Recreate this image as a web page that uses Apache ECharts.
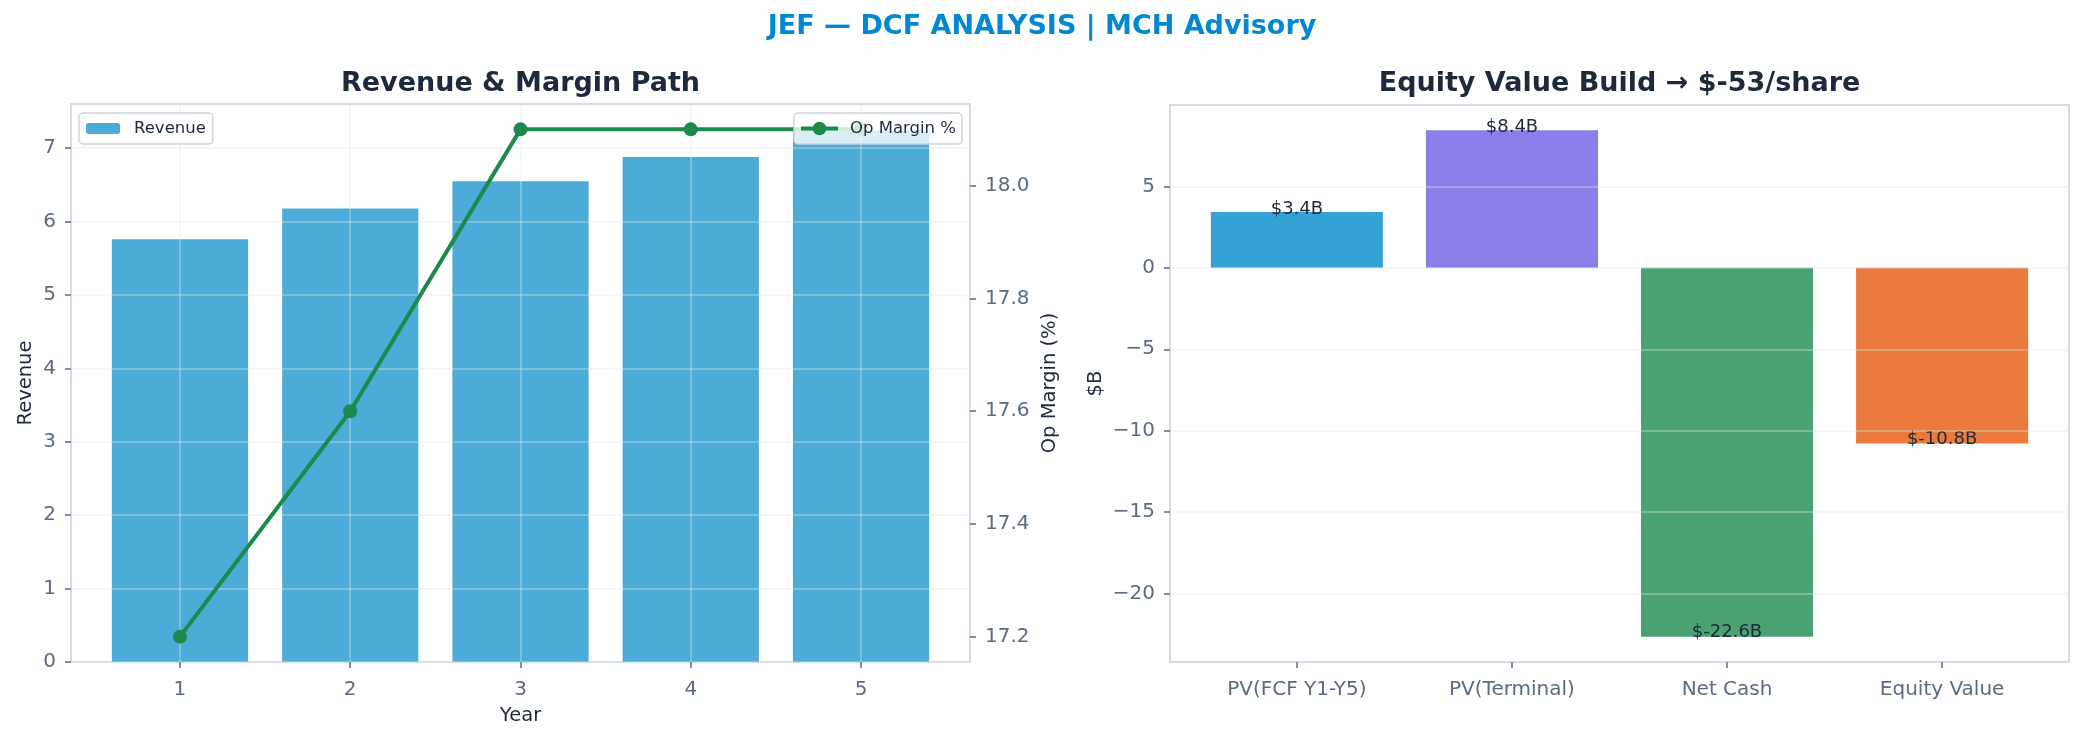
<!DOCTYPE html>
<html>
<head>
<meta charset="utf-8">
<title>JEF DCF Analysis</title>
<script src="https://cdn.jsdelivr.net/npm/echarts@6.0.0/dist/echarts.min.js"></script>
<style>
	html, body { margin: 0; padding: 0; background: #ffffff; }
	#chart { width: 2084px; height: 740px; }
</style>
</head>
<body>
<div id="chart"></div>
<script>
// values
var years = [1, 2, 3, 4, 5];
var revenue = [5.76, 6.18, 6.55, 6.88, 7.24];
var opMargin = [17.2, 17.6, 18.1, 18.1, 18.1];

var buildNames = ['PV(FCF Y1-Y5)', 'PV(Terminal)', 'Net Cash', 'Equity Value'];
var buildValues = [3.42, 8.44, -22.64, -10.78];

var revenueTicks = [0, 1, 2, 3, 4, 5, 6, 7];
var marginTicks = [17.2, 17.4, 17.6, 17.8, 18.0];
var buildTicks = [-20, -15, -10, -5, 0, 5];

var buildColors = ['#34a2d4', '#8a7fea', '#4aa272', '#ec7a3e'];

var FONT = 'DejaVu Sans';
var tickColor = '#5b6b80';
var darkText = '#1e293b';
var frameColor = '#d5dce6';
var gridColor = 'rgba(225,230,238,0.45)';

// matplotlib style 5% axis margins
function pad(lo, hi) {
	var m = (hi - lo) * 0.05;
	return [lo - m, hi + m];
}

var leftX = pad(years[0] - 0.4, years[years.length - 1] + 0.4);
var rightX = pad(-0.4, buildNames.length - 1 + 0.4);
var revMax = Math.max.apply(null, revenue) * 1.05;
var marginRange = pad(Math.min.apply(null, opMargin), Math.max.apply(null, opMargin));
var buildRange = pad(Math.min(0, Math.min.apply(null, buildValues)), Math.max(0, Math.max.apply(null, buildValues)));

function minus(v) {
	return String(v).replace('-', '\u2212');
}

var revenueData = [];
var marginData = [];
for (var i = 0; i < years.length; i++) {
	revenueData.push([years[i], revenue[i]]);
	marginData.push([years[i], opMargin[i]]);
}

var buildData = [];
for (var j = 0; j < buildValues.length; j++) {
	var v = buildValues[j];
	buildData.push({
		value: [j, v],
		itemStyle: { color: buildColors[j] },
		label: v >= 0 ? { position: 'top', distance: -6 } : { position: 'bottom', distance: -13 }
	});
}

var tickStyle = { show: true, length: 6, lineStyle: { color: tickColor, width: 1.5 } };
var labelStyle = { color: tickColor, fontSize: 20, fontFamily: FONT };
var nameStyle = { color: darkText, fontSize: 19.5, fontFamily: FONT };
var noLine = { show: false, onZero: false };

var myChart = echarts.init(document.getElementById('chart'), null, { renderer: 'canvas' });

var option = {
	backgroundColor: '#ffffff',
	textStyle: { fontFamily: FONT },
	animation: false,
	title: [
		{
			text: 'JEF \u2014 DCF ANALYSIS | MCH Advisory',
			left: 1042, top: 13, padding: 0,
			textAlign: 'center', textVerticalAlign: 'top',
			textStyle: { color: '#0288d1', fontSize: 27, fontWeight: 'bold', fontFamily: FONT }
		},
		{
			text: 'Revenue & Margin Path',
			left: 520.5, top: 70, padding: 0,
			textAlign: 'center', textVerticalAlign: 'top',
			textStyle: { color: darkText, fontSize: 27, fontWeight: 'bold', fontFamily: FONT }
		},
		{
			text: 'Equity Value Build \u2192 $-53/share',
			left: 1619.5, top: 70, padding: 0,
			textAlign: 'center', textVerticalAlign: 'top',
			textStyle: { color: darkText, fontSize: 27, fontWeight: 'bold', fontFamily: FONT }
		}
	],
	legend: [
		{
			data: ['Revenue'],
			left: 79, top: 113,
			padding: [7, 7, 7, 7],
			itemWidth: 34, itemHeight: 11,
			backgroundColor: 'rgba(255,255,255,0.8)',
			borderColor: '#d0d4da', borderWidth: 1.5, borderRadius: 4,
			textStyle: { color: darkText, fontSize: 16.5, fontFamily: FONT, padding: [0, 0, 0, 9] },
			z: 10
		},
		{
			data: ['Op Margin %'],
			right: 1122, top: 113,
			padding: [7, 6, 7, 5],
			itemWidth: 37, itemHeight: 17,
			lineStyle: { width: 4 },
			backgroundColor: 'rgba(255,255,255,0.8)',
			borderColor: '#d0d4da', borderWidth: 1.5, borderRadius: 4,
			textStyle: { color: darkText, fontSize: 16.5, fontFamily: FONT, padding: [0, 0, 0, 7] },
			z: 10
		}
	],
	grid: [
		{ left: 71, top: 104, width: 899, height: 558, show: true, borderColor: frameColor, borderWidth: 2, backgroundColor: 'transparent' },
		{ left: 1170, top: 105, width: 899, height: 557, show: true, borderColor: frameColor, borderWidth: 2, backgroundColor: 'transparent' }
	],
	xAxis: [
		{
			type: 'value', gridIndex: 0, z: 3,
			min: leftX[0], max: leftX[1],
			name: 'Year', nameLocation: 'middle', nameGap: 44, nameTextStyle: nameStyle,
			axisLine: noLine,
			axisTick: Object.assign({ customValues: years }, tickStyle),
			axisLabel: Object.assign({ customValues: years, margin: 18 }, labelStyle),
			splitLine: { show: true, lineStyle: { color: gridColor, width: 1.5 } }
		},
		{
			type: 'value', gridIndex: 1, z: 3,
			min: rightX[0], max: rightX[1],
			axisLine: noLine,
			axisTick: Object.assign({ customValues: [0, 1, 2, 3] }, tickStyle),
			axisLabel: Object.assign({
				customValues: [0, 1, 2, 3], margin: 18,
				formatter: function(val) { return buildNames[Math.round(val)]; }
			}, labelStyle),
			splitLine: { show: false }
		}
	],
	yAxis: [
		{
			type: 'value', gridIndex: 0, z: 3,
			min: 0, max: revMax,
			name: 'Revenue', nameLocation: 'middle', nameGap: 35, nameTextStyle: nameStyle,
			axisLine: noLine,
			axisTick: Object.assign({ customValues: revenueTicks }, tickStyle),
			axisLabel: Object.assign({ customValues: revenueTicks, margin: 15 }, labelStyle),
			splitLine: { show: true, lineStyle: { color: gridColor, width: 1.5 } }
		},
		{
			type: 'value', gridIndex: 0, position: 'right', z: 3,
			min: marginRange[0], max: marginRange[1],
			name: 'Op Margin (%)', nameLocation: 'middle', nameGap: 70, nameTextStyle: nameStyle,
			axisLine: noLine,
			axisTick: Object.assign({ customValues: marginTicks }, tickStyle),
			axisLabel: Object.assign({
				customValues: marginTicks, margin: 15,
				formatter: function(val) { return val.toFixed(1); }
			}, labelStyle),
			splitLine: { show: false }
		},
		{
			type: 'value', gridIndex: 1, z: 3,
			min: buildRange[0], max: buildRange[1],
			name: '$B', nameLocation: 'middle', nameGap: 64, nameTextStyle: nameStyle,
			axisLine: noLine,
			axisTick: Object.assign({ customValues: buildTicks }, tickStyle),
			axisLabel: Object.assign({
				customValues: buildTicks, margin: 15,
				formatter: function(val) { return minus(val); }
			}, labelStyle),
			splitLine: { show: true, lineStyle: { color: gridColor, width: 1.5 } }
		}
	],
	series: [
		{
			name: 'Revenue', type: 'bar',
			xAxisIndex: 0, yAxisIndex: 0,
			barWidth: '80%',
			itemStyle: { color: '#4cabd7' },
			data: revenueData,
			z: 2
		},
		{
			name: 'Op Margin %', type: 'line',
			xAxisIndex: 0, yAxisIndex: 1,
			symbol: 'circle', symbolSize: 14,
			lineStyle: { color: '#1b8a4b', width: 4 },
			itemStyle: { color: '#1b8a4b' },
			data: marginData,
			z: 5
		},
		{
			name: 'Equity Build', type: 'bar',
			xAxisIndex: 1, yAxisIndex: 2,
			barWidth: '80%',
			data: buildData,
			label: {
				show: true,
				color: darkText, fontSize: 18, fontFamily: FONT,
				formatter: function(p) { return '$' + p.value[1].toFixed(1) + 'B'; }
			},
			z: 2
		}
	]
};

myChart.setOption(option);
</script>
</body>
</html>
